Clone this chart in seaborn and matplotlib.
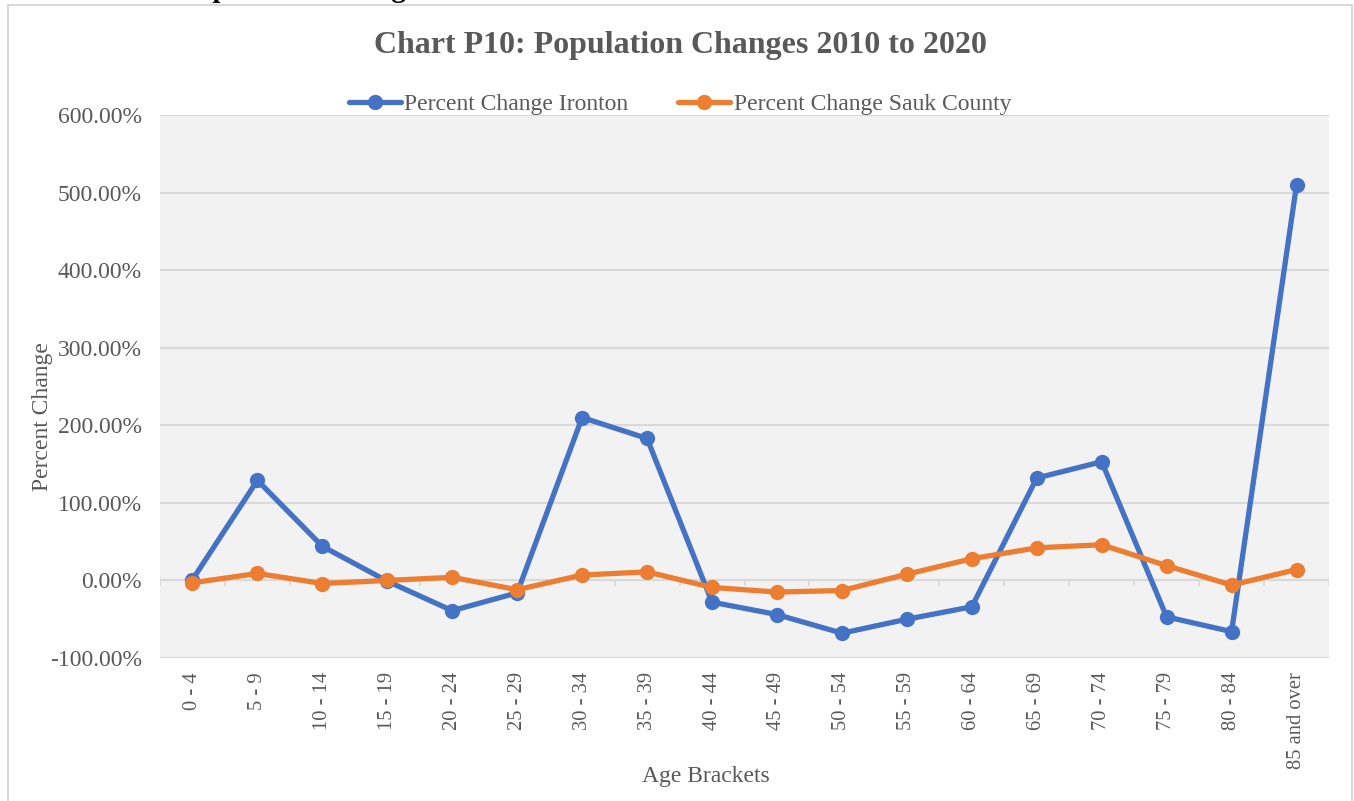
import matplotlib
matplotlib.use("Agg")
import matplotlib.pyplot as plt
from matplotlib.patches import Rectangle
from matplotlib.ticker import FuncFormatter
import numpy as np
import pandas as pd
import seaborn as sns

# --- data ---
age_brackets = ["0 - 4", "5 - 9", "10 - 14", "15 - 19", "20 - 24", "25 - 29",
                "30 - 34", "35 - 39", "40 - 44", "45 - 49", "50 - 54", "55 - 59",
                "60 - 64", "65 - 69", "70 - 74", "75 - 79", "80 - 84", "85 and over"]
pct_ironton = [1, 129, 44, -1, -39, -16, 210, 183, -28, -44, -68, -50,
               -34, 132, 153, -47, -66, 510]
pct_sauk = [-3, 9, -4, 0, 4, -12, 7, 11, -9, -15, -13, 8,
            28, 42, 46, 19, -6, 14]
series_names = ["Percent Change Ironton", "Percent Change Sauk County"]
y_ticks = [-100, 0, 100, 200, 300, 400, 500, 600]

# --- style ---
sns.set_style("white")
plt.rcParams["font.family"] = ["Liberation Serif", "DejaVu Serif"]
text_gray = "#595959"
grid_gray = "#d9d9d9"
palette = {series_names[0]: "#4472c4", series_names[1]: "#ed7d31"}

df = pd.DataFrame({
    "Age Brackets": age_brackets * 2,
    "Percent Change": pct_ironton + pct_sauk,
    "Series": [series_names[0]] * len(age_brackets) + [series_names[1]] * len(age_brackets),
})

fig = plt.figure(figsize=(13.54, 8.01), dpi=100)
ax = fig.add_axes([160 / 1354, 1 - 658 / 801, (1329 - 160) / 1354, (658 - 115) / 801])
ax.set_facecolor("#f2f2f2")

sns.lineplot(data=df, x="Age Brackets", y="Percent Change", hue="Series",
             palette=palette, marker="o", markersize=11, markeredgewidth=0,
             linewidth=3.8, sort=False, ax=ax, zorder=3)

# axes look (Excel style)
n = len(age_brackets)
ax.set_xlim(-0.5, n - 0.5)
ax.set_ylim(y_ticks[0], y_ticks[-1])
ax.set_yticks(y_ticks)
ax.yaxis.set_major_formatter(FuncFormatter(lambda v, p: f"{v:.2f}%"))
ax.grid(axis="y", color=grid_gray, linewidth=1.5, zorder=0)
ax.grid(axis="x", visible=False)
for s in ax.spines.values():
    s.set_visible(False)
ax.axhline(0, color=grid_gray, linewidth=1.5, zorder=1)
ax.vlines(np.arange(n + 1) - 0.5, -7, 0, color=grid_gray, linewidth=1.2, zorder=1)

ax.tick_params(axis="y", length=0, pad=13, labelsize=17, labelcolor=text_gray)
ax.tick_params(axis="x", length=0, pad=10, labelsize=14.8, labelcolor=text_gray,
               labelrotation=90)
for lab in ax.get_xticklabels():
    lab.set_verticalalignment("top")

ax.set_xlabel("Age Brackets", fontsize=17, color=text_gray)
ax.set_ylabel("Percent Change", fontsize=17, color=text_gray)
ax.xaxis.set_label_coords((706 - 160) / 1169, -0.198)
ax.yaxis.set_label_coords((53 - 160) / 1169, (658 - 417) / 543)

# legend on top, centred on the chart box
handles, labels = ax.get_legend_handles_labels()
ax.get_legend().remove()
fig.legend(handles, labels, loc="center", bbox_to_anchor=(680 / 1354, 1 - 104 / 801),
           ncol=2, frameon=False, fontsize=17, handlelength=2.2, handletextpad=0.15,
           columnspacing=2.1, labelcolor=text_gray)

fig.text(680 / 1354, 1 - 45 / 801, "Chart P10: Population Changes 2010 to 2020",
         ha="center", va="center", fontsize=23, fontweight="bold", color=text_gray)

# chart border and the cut-off heading above it
fig.patches.append(Rectangle((8 / 1354, -0.02), (1352 - 8) / 1354, 0.02 + 1 - 5 / 801,
                             transform=fig.transFigure, fill=False,
                             edgecolor=grid_gray, linewidth=1.5))
fig.text(180 / 1354, 1 + 3 / 801, "Population Changes", ha="left", va="baseline",
         fontsize=21, fontweight="bold", color="black")

fig.savefig("out.png", dpi=100)
